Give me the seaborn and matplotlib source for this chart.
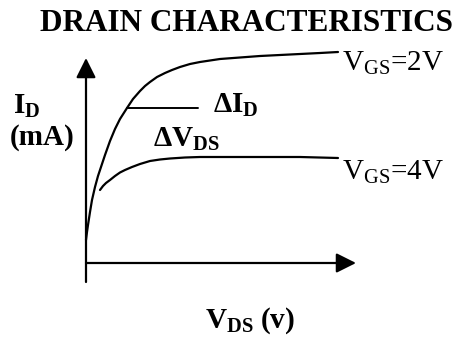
import matplotlib
matplotlib.use("Agg")
import matplotlib.pyplot as plt
import seaborn as sns
import pandas as pd

# V_DS / I_D sketch points for each gate voltage (arbitrary units)
vds_2v = [0, 1, 2, 4, 6, 9, 12, 14, 19, 24, 29, 34, 41, 47, 54, 59, 64, 71,
          79, 86, 94, 104, 114, 124, 134, 154, 174, 194, 214, 234, 252]
id_2v = [23, 31, 38, 51, 63, 76, 87, 93, 108, 122, 134, 144, 155, 164, 172,
         177, 181, 186, 190, 193, 196, 199, 201, 202.5, 204, 205.5, 207, 208,
         209, 210, 211]
vds_4v = [14, 17, 20, 24, 29, 34, 39, 46, 54, 64, 74, 84, 99, 114, 164, 214,
          252]
id_4v = [73, 77, 80, 83, 87, 90.5, 93, 96, 99, 102, 103.5, 104.5, 105.5, 106,
         106, 106, 105]

# delta-I_D marker segment
delta_x = [41, 112]
delta_y = [155, 155]

curve_labels = ["V$_{\\mathrm{GS}}$=2V", "V$_{\\mathrm{GS}}$=4V"]

sns.set_theme(style="white")
plt.rcParams["font.family"] = ["Liberation Serif", "DejaVu Serif"]
plt.rcParams["text.color"] = "black"
plt.rcParams["mathtext.fontset"] = "custom"
plt.rcParams["mathtext.rm"] = "Liberation Serif"
plt.rcParams["mathtext.bf"] = "Liberation Serif:bold"
plt.rcParams["mathtext.it"] = "Liberation Serif:italic"

df = pd.concat([
    pd.DataFrame({"vds": vds_2v, "id": id_2v, "vgs": "2V"}),
    pd.DataFrame({"vds": vds_4v, "id": id_4v, "vgs": "4V"}),
])

fig = plt.figure(figsize=(4.63, 3.41), dpi=100)
ax = fig.add_axes([0, 0, 1, 1])
ax.set_xlim(-86, 377)
ax.set_ylim(-78, 263)
ax.axis("off")

sns.lineplot(data=df, x="vds", y="id", units="vgs", estimator=None, sort=False,
             color="black", linewidth=1.6, ax=ax, legend=False)
sns.lineplot(x=delta_x, y=delta_y, color="black", linewidth=1.4, ax=ax,
             legend=False)

# axes arrows
arrow = dict(arrowstyle="-|>,head_length=0.6,head_width=0.3", color="black",
             lw=1.6, shrinkA=0, shrinkB=0, mutation_scale=20)
ax.annotate("", xy=(0, 205), xytext=(0, -19), arrowprops=arrow)
ax.annotate("", xy=(270, 0), xytext=(0, 0), arrowprops=arrow)

ax.text(160, 232, "DRAIN CHARACTERISTICS", fontsize=22.5, fontweight="bold",
        ha="center", va="baseline")
ax.text(-73, 149, "$\\mathbf{I_D}$", fontsize=21, ha="left", va="baseline")
ax.text(-76, 118, "(mA)", fontsize=21, fontweight="bold", ha="left",
        va="baseline")
ax.text(127, 150, "$\\mathbf{\\Delta I_D}$", fontsize=21, ha="left",
        va="baseline")
ax.text(67, 116, "$\\mathbf{\\Delta V_{DS}}$", fontsize=21, ha="left",
        va="baseline")
ax.text(256, 192, curve_labels[0], fontsize=21, ha="left", va="baseline")
ax.text(256, 83, curve_labels[1], fontsize=21, ha="left", va="baseline")
ax.text(119, -65, "$\\mathbf{V_{DS}\\ (v)}$", fontsize=21, ha="left",
        va="baseline")

fig.savefig("out.png", dpi=100)
